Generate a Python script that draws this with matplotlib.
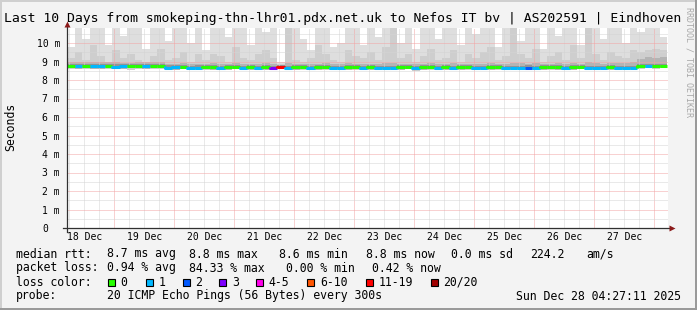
import numpy as np
import matplotlib
matplotlib.use("Agg")
import matplotlib.pyplot as plt
from matplotlib.patches import Rectangle
from matplotlib.transforms import ScaledTranslation

plt.rcParams['font.family'] = ['DejaVu Sans Mono']

W, H = 697, 310

# time axis: hours since 18 Dec 00:00, one value per 3 h bucket
t_start = 5.08
bucket_h = 3.0

# median rtt (ms) per bucket
median = [8.76, 8.74, 8.76, 8.73, 8.74, 8.76, 8.72, 8.73, 8.76, 8.75,
          8.73, 8.76, 8.75, 8.67, 8.68, 8.69, 8.66, 8.67, 8.69, 8.68,
          8.66, 8.68, 8.69, 8.66, 8.68, 8.66, 8.68, 8.66, 8.70, 8.66,
          8.68, 8.69, 8.66, 8.68, 8.69, 8.66, 8.66, 8.68, 8.69, 8.66,
          8.68, 8.66, 8.66, 8.66, 8.68, 8.69, 8.66, 8.68, 8.69, 8.66,
          8.68, 8.66, 8.68, 8.69, 8.66, 8.66, 8.68, 8.69, 8.66, 8.66,
          8.66, 8.67, 8.66, 8.68, 8.69, 8.68, 8.66, 8.68, 8.69, 8.66,
          8.66, 8.66, 8.68, 8.66, 8.66, 8.66, 8.77, 8.75, 8.77, 8.76]

# lost pings (of 20) per bucket
loss = [0, 1, 0, 1, 1, 0, 1, 1, 0, 0,
        1, 0, 0, 1, 1, 0, 1, 1, 0, 0,
        1, 0, 0, 1, 0, 1, 0, 3, 12, 1,
        0, 0, 1, 0, 0, 1, 1, 0, 0, 1,
        0, 1, 1, 1, 0, 0, 1, 0, 0, 1,
        0, 1, 0, 0, 1, 1, 0, 0, 1, 1,
        1, 2, 1, 0, 0, 0, 1, 0, 0, 1,
        1, 1, 0, 1, 1, 1, 0, 1, 0, 0]

# smoke: highest ping, upper band, dark band near median, lowest ping (ms)
smoke_top = [9.8, 10.9, 10.2, 10.9, 10.9, 9.9, 10.9, 10.4, 10.9, 10.9,
             9.7, 10.9, 10.9, 10.1, 10.9, 10.9, 10.0, 10.9, 9.6, 10.9,
             10.9, 10.3, 10.9, 10.9, 9.9, 10.9, 10.6, 10.9, 8.95, 10.4,
             10.9, 10.2, 9.6, 10.9, 10.9, 9.8, 10.0, 10.9, 10.9, 9.9,
             10.9, 10.3, 10.9, 10.9, 10.0, 10.9, 9.7, 10.9, 10.9, 10.2,
             10.9, 10.9, 9.9, 10.9, 10.5, 10.9, 10.9, 9.8, 10.9, 10.9,
             10.1, 10.9, 10.9, 9.7, 10.9, 10.4, 10.9, 10.9, 9.9, 10.9,
             10.9, 10.2, 10.9, 10.9, 10.0, 10.9, 10.6, 10.9, 10.9, 10.3]

smoke_mid = [9.2, 9.5, 9.1, 9.9, 9.3, 9.0, 9.6, 9.2, 9.4, 9.1,
             9.0, 9.3, 9.7, 9.1, 9.2, 9.5, 9.0, 9.4, 9.1, 9.4,
             9.3, 9.0, 9.8, 9.2, 9.1, 9.4, 9.6, 9.2, 8.85, 10.9,
             9.1, 9.0, 9.2, 9.9, 9.4, 9.1, 9.0, 9.6, 9.3, 9.2,
             9.5, 9.1, 9.8, 10.9, 9.2, 9.4, 9.0, 9.3, 9.7, 9.1,
             9.2, 9.6, 9.0, 9.4, 9.2, 9.5, 9.8, 9.1, 9.3, 10.9,
             9.4, 9.2, 9.7, 9.0, 9.3, 9.5, 9.1, 9.9, 9.2, 10.9,
             9.4, 9.1, 9.5, 9.3, 9.2, 9.6, 9.5, 9.6, 9.7, 9.6]

smoke_dark = [8.98, 8.96, 9.00, 8.97, 8.95, 8.99, 8.96, 8.94, 8.92, 8.97,
              8.99, 8.96, 8.97, 8.88, 8.86, 8.90, 8.87, 8.89, 8.86, 8.92,
              8.88, 8.86, 8.90, 8.87, 8.89, 8.85, 8.91, 8.88, 8.80, 8.93,
              8.87, 8.86, 8.89, 8.88, 8.90, 8.86, 8.87, 8.91, 8.88, 8.86,
              8.89, 8.87, 8.92, 8.90, 8.86, 8.88, 8.87, 8.89, 8.91, 8.86,
              8.88, 8.90, 8.86, 8.89, 8.87, 8.88, 8.92, 8.86, 8.89, 8.93,
              8.90, 8.88, 8.91, 8.86, 8.89, 8.90, 8.87, 8.92, 8.88, 8.95,
              8.90, 8.87, 8.91, 8.93, 8.92, 8.98, 9.15, 9.22, 9.18, 9.24]

smoke_low = [8.62, 8.61, 8.60, 8.62, 8.60, 8.58, 8.61, 8.60, 8.55, 8.59,
             8.61, 8.60, 8.62, 8.56, 8.55, 8.57, 8.56, 8.58, 8.55, 8.57,
             8.56, 8.55, 8.57, 8.56, 8.58, 8.55, 8.57, 8.56, 8.62, 8.55,
             8.57, 8.56, 8.55, 8.57, 8.56, 8.55, 8.57, 8.56, 8.55, 8.57,
             8.56, 8.55, 8.57, 8.56, 8.55, 8.57, 8.50, 8.56, 8.55, 8.57,
             8.56, 8.55, 8.57, 8.56, 8.55, 8.52, 8.57, 8.56, 8.55, 8.57,
             8.56, 8.55, 8.57, 8.56, 8.55, 8.57, 8.56, 8.55, 8.57, 8.56,
             8.55, 8.57, 8.56, 8.55, 8.57, 8.56, 8.62, 8.63, 8.62, 8.64]

day_labels = ['18 Dec', '19 Dec', '20 Dec', '21 Dec', '22 Dec',
              '23 Dec', '24 Dec', '25 Dec', '26 Dec', '27 Dec']
y_labels = ['0', '1 m', '2 m', '3 m', '4 m', '5 m', '6 m', '7 m', '8 m', '9 m', '10 m']

loss_names = ['0', '1', '2', '3', '4-5', '6-10', '11-19', '20/20']
loss_colors = ['#26ff00', '#00b8ff', '#0059ff', '#7e00ff',
               '#ff00ea', '#ff5500', '#ff0000', '#a10000']
loss_upper = [0, 1, 2, 3, 5, 10, 19, 20]


def loss_color(n):
    for lim, c in zip(loss_upper, loss_colors):
        if n <= lim:
            return c
    return loss_colors[-1]


def px(x, y):
    return x / W, 1 - y / H


fig = plt.figure(figsize=(W / 100, H / 100), dpi=100, facecolor='#f3f3f3')
ax = fig.add_axes([67 / W, 1 - 228 / H, 601 / W, 200 / H])
ax.set_facecolor('white')
ax.set_xlim(t_start, t_start + 601 / 2.5)
ax.set_ylim(0, 200 / 18.5)
for s in ax.spines.values():
    s.set_visible(False)

edges = t_start + bucket_h * np.arange(len(median) + 1)


def stepped(a):
    a = np.asarray(a, dtype=float)
    return np.append(a, a[-1])


med = np.asarray(median)
ax.fill_between(edges, stepped(smoke_low), stepped(smoke_top), step='post',
                color='#dedede', lw=0, zorder=1)
ax.fill_between(edges, stepped(smoke_low), stepped(smoke_mid), step='post',
                color='#cecece', lw=0, zorder=1.1)
ax.fill_between(edges, stepped(med - 0.12), stepped(smoke_dark), step='post',
                color='#b4b4b4', lw=0, zorder=1.2)
ax.fill_between(edges, stepped(med - 0.07), stepped(med + 0.12), step='post',
                color='#949494', lw=0, zorder=1.3)

# grid
dot = (0, (1, 1))
for h in range(6, 246, 6):
    c = '#f2a4a4' if h % 24 == 0 else '#d4d4d4'
    ax.axvline(h, color=c, lw=0.72, ls=dot, zorder=2)
for v in np.arange(0.5, 10.81, 0.5):
    c = '#f2a4a4' if v == int(v) else '#d4d4d4'
    ax.axhline(v, color=c, lw=0.72, ls=dot, zorder=2)

# median line coloured by loss
for i in range(len(median)):
    prev = median[i - 1] if i > 0 else median[i]
    ax.plot([edges[i], edges[i], edges[i + 1]], [prev, median[i], median[i]],
            color=loss_color(loss[i]), lw=2.2, solid_capstyle='butt', zorder=4)

# axes with arrows
ax.plot([-4 / 601, 604 / 601], [0, 0], transform=ax.transAxes, color='#303030',
        lw=0.9, clip_on=False, zorder=5)
ax.plot([605 / 601], [0], marker='>', ms=4, color='#8b1a1a', mec='none',
        transform=ax.transAxes, clip_on=False, zorder=6)
ax.plot([0, 0], [-4 / 200, 202 / 200], transform=ax.transAxes, color='#303030',
        lw=0.9, clip_on=False, zorder=5)
ax.plot([0], [204 / 200], marker='^', ms=4, color='#8b1a1a', mec='none',
        transform=ax.transAxes, clip_on=False, zorder=6)

# ticks
ax.set_xticks([12 + 24 * d for d in range(len(day_labels))])
ax.set_xticklabels(day_labels)
ax.set_yticks(range(len(y_labels)))
ax.set_yticklabels(y_labels)
ax.tick_params(axis='x', length=0, pad=3, labelsize=7, colors='#000000')
ax.tick_params(axis='y', length=0, pad=5, labelsize=7, colors='#000000')
zero_lab = ax.get_yticklabels()[0]
zero_lab.set_transform(zero_lab.get_transform() +
                       ScaledTranslation(-0.117, 0, fig.dpi_scale_trans))

# title and side texts
fig.text(*px(4, 22), 'Last 10 Days from smokeping-thn-lhr01.pdx.net.uk to Nefos IT bv | AS202591 | Eindhoven',
         fontsize=9.45, va='baseline', ha='left')
fig.text(*px(688.5, 62), 'RRDTOOL / TOBI OETIKER', rotation=270, fontsize=6,
         color='#a8a8a8', ha='center', va='center')
fig.text(*px(11, 127), 'Seconds', rotation=90, fontsize=8.3, ha='center', va='center')

# legend
fs = 8.3
row1 = [(16, 'median rtt:'), (107.3, '8.7 ms avg'), (189.3, '8.8 ms max'),
        (279.3, '8.6 ms min'), (365.7, '8.8 ms now'), (451, '0.0 ms sd'),
        (530, '224.2'), (586, 'am/s')]
row2 = [(16, 'packet loss:'), (107.3, '0.94 % avg'), (189.3, '84.33 % max'),
        (286, '0.00 % min'), (372.3, '0.42 % now')]
for x, s in row1:
    fig.text(*px(x, 254), s, fontsize=fs, va='center', ha='left')
for x, s in row2:
    fig.text(*px(x, 268), s, fontsize=fs, va='center', ha='left')

fig.text(*px(16, 282), 'loss color:', fontsize=fs, va='center', ha='left')
box_x = [108, 146, 182.7, 219.3, 256, 307.3, 366, 431]
for bx, name, c in zip(box_x, loss_names, loss_colors):
    fig.patches.append(Rectangle(px(bx, 285.5), 7 / W, 7 / H, transform=fig.transFigure,
                                 facecolor=c, edgecolor='black', lw=0.8))
    fig.text(*px(bx + 12.5, 282), name, fontsize=fs, va='center', ha='left')

fig.text(*px(16, 296), 'probe:', fontsize=fs, va='center', ha='left')
fig.text(*px(107.3, 296), '20 ICMP Echo Pings (56 Bytes) every 300s',
         fontsize=fs, va='center', ha='left')
fig.text(*px(681, 296), 'Sun Dec 28 04:27:11 2025', fontsize=fs, va='center', ha='right')

# 3d-ish border
fig.patches.append(Rectangle((0, 1 - 2 / H), 1, 2 / H, transform=fig.transFigure,
                             facecolor='#cfcfcf', lw=0))
fig.patches.append(Rectangle((0, 0), 2 / W, 1, transform=fig.transFigure,
                             facecolor='#cfcfcf', lw=0))
fig.patches.append(Rectangle((1 - 2 / W, 0), 2 / W, 1, transform=fig.transFigure,
                             facecolor='#9a9a9a', lw=0))
fig.patches.append(Rectangle((0, 0), 1, 2 / H, transform=fig.transFigure,
                             facecolor='#9a9a9a', lw=0))

fig.savefig('out.png', dpi=100, facecolor=fig.get_facecolor())
